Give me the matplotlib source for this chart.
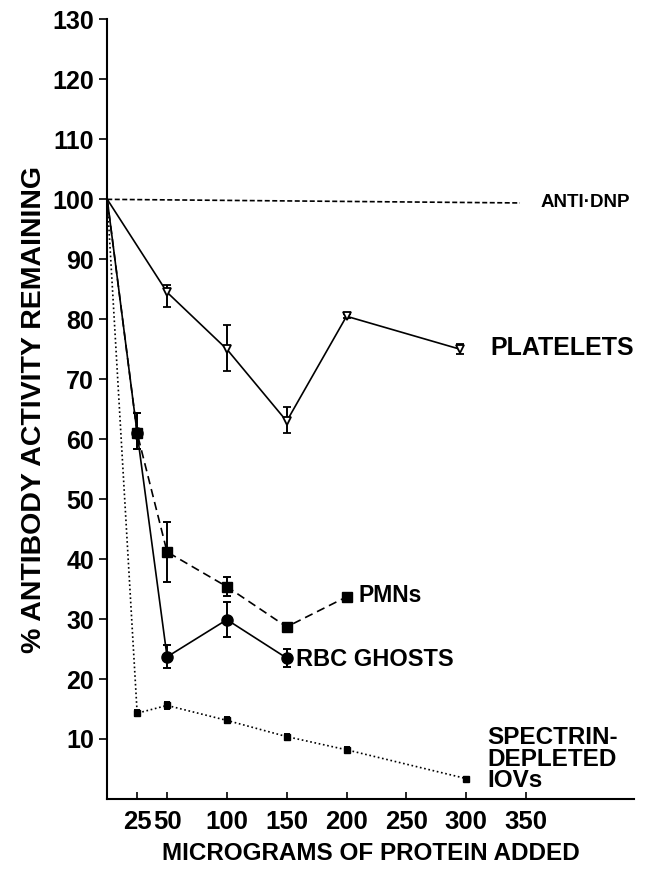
import numpy as np
import matplotlib.pyplot as plt

# values
x_dnp = [0, 345]
y_dnp = [100, 99.4]

x_plt = [0, 50, 100, 150, 200, 295]
y_plt = [100, 84.5, 75, 63, 80.5, 75]
e_plt_lo = [0, 2.5, 3.7, 2.0, 0.3, 0.8]
e_plt_hi = [0, 1.2, 4.0, 2.3, 0.3, 0.8]

x_pmn = [0, 25, 50, 100, 150, 200]
y_pmn = [100, 61, 41.2, 35.4, 28.7, 33.7]
e_pmn_lo = [0, 2.7, 5.0, 1.5, 0.5, 0.5]
e_pmn_hi = [0, 3.4, 5.0, 1.7, 0.5, 0.5]

x_rbc = [0, 25, 50, 100, 150]
y_rbc = [100, 61, 23.7, 29.9, 23.5]
e_rbc_lo = [0, 2.7, 1.8, 2.9, 1.5]
e_rbc_hi = [0, 3.4, 2.0, 3.0, 1.5]

x_iov = [0, 25, 50, 100, 150, 200, 300]
y_iov = [100, 14.3, 15.6, 13.1, 10.4, 8.2, 3.4]
e_iov = [0, 0.5, 0.6, 0.5, 0.5, 0.4, 0.3]

xticks = [25, 50, 100, 150, 200, 250, 300, 350]
yticks = [10, 20, 30, 40, 50, 60, 70, 80, 90, 100, 110, 120, 130]

plt.rcParams['font.family'] = ['Liberation Sans', 'DejaVu Sans']
plt.rcParams['font.weight'] = 'bold'

fig = plt.figure(figsize=(6.58, 8.69), dpi=100)
ax = fig.add_axes([0.163, 0.0806, 0.80, 0.897])

lw = 1.2
eb = dict(color='black', ls='none', capsize=3, elinewidth=1.4, capthick=1.4)

ax.plot(x_dnp, y_dnp, color='black', lw=lw, ls=(0, (3, 1.5)))

# platelets
ax.plot(x_plt, y_plt, color='black', lw=lw)
ax.errorbar(x_plt[1:], y_plt[1:], yerr=[e_plt_lo[1:], e_plt_hi[1:]],
            marker='v', ms=6, mfc='white', mec='black', mew=1.3, **eb)

# PMNs
ax.plot(x_pmn, y_pmn, color='black', lw=lw, ls=(0, (5, 3)))
ax.errorbar(x_pmn[1:], y_pmn[1:], yerr=[e_pmn_lo[1:], e_pmn_hi[1:]],
            marker='s', ms=7, **eb)

# RBC ghosts
ax.plot(x_rbc, y_rbc, color='black', lw=lw)
ax.errorbar(x_rbc[1:], y_rbc[1:], yerr=[e_rbc_lo[1:], e_rbc_hi[1:]],
            marker='o', ms=8, **eb)

# spectrin-depleted IOVs
ax.plot(x_iov, y_iov, color='black', lw=lw, ls=(0, (1, 1.6)))
ax.errorbar(x_iov[1:], y_iov[1:], yerr=e_iov[1:], marker='s', ms=4,
            color='black', ls='none', capsize=2, elinewidth=1.4, capthick=1.4)

ax.text(362, 99.5, 'ANTI·DNP', fontsize=13.5, fontweight='bold', va='center')
ax.text(320, 75.2, 'PLATELETS', fontsize=18, fontweight='bold', va='center')
ax.text(210, 33.9, 'PMNs', fontsize=16.5, fontweight='bold', va='center')
ax.text(158, 23.3, 'RBC GHOSTS', fontsize=17, fontweight='bold', va='center')
ax.text(318, 1.2, 'SPECTRIN-\nDEPLETED\nIOVs', fontsize=17.5, fontweight='bold',
        va='bottom', linespacing=0.9)

ax.set_xlim(0, 440)
ax.set_ylim(0, 130)
ax.set_xticks(xticks)
ax.set_yticks(yticks)
ax.tick_params(axis='x', direction='in', length=5, width=1.2, labelsize=18.5, pad=8)
ax.tick_params(axis='y', direction='out', length=6, width=1.2, labelsize=18)
for lab in ax.get_xticklabels() + ax.get_yticklabels():
    lab.set_fontweight('bold')
ax.spines['top'].set_visible(False)
ax.spines['right'].set_visible(False)
ax.spines['left'].set_linewidth(1.5)
ax.spines['bottom'].set_linewidth(1.5)

ax.set_xlabel('MICROGRAMS OF PROTEIN ADDED', fontsize=17.5, fontweight='bold', labelpad=6)
ax.set_ylabel('% ANTIBODY ACTIVITY REMAINING', fontsize=20.5, fontweight='bold', labelpad=4)

plt.savefig('out.png', dpi=100)
